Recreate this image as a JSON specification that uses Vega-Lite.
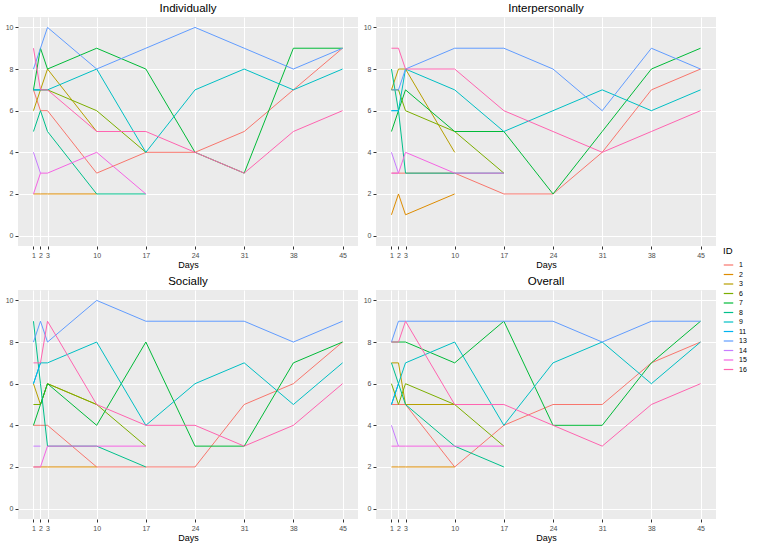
{
  "$schema": "https://vega.github.io/schema/vega-lite/v6.json",
  "padding": {"left": 5, "top": 2, "right": 2, "bottom": 2},
  "background": "white",
  "datasets": {
    "scores": [
      {"panel":"Individually","id":"1","day":1,"value":7},{"panel":"Individually","id":"1","day":2,"value":6},{"panel":"Individually","id":"1","day":3,"value":6},{"panel":"Individually","id":"1","day":10,"value":3},{"panel":"Individually","id":"1","day":17,"value":4},{"panel":"Individually","id":"1","day":24,"value":4},{"panel":"Individually","id":"1","day":31,"value":5},{"panel":"Individually","id":"1","day":38,"value":7},{"panel":"Individually","id":"1","day":45,"value":9},
      {"panel":"Individually","id":"2","day":1,"value":2},{"panel":"Individually","id":"2","day":2,"value":2},{"panel":"Individually","id":"2","day":3,"value":2},{"panel":"Individually","id":"2","day":10,"value":2},
      {"panel":"Individually","id":"3","day":1,"value":6},{"panel":"Individually","id":"3","day":2,"value":7},{"panel":"Individually","id":"3","day":3,"value":8},{"panel":"Individually","id":"3","day":10,"value":5},
      {"panel":"Individually","id":"6","day":1,"value":7},{"panel":"Individually","id":"6","day":2,"value":7},{"panel":"Individually","id":"6","day":3,"value":7},{"panel":"Individually","id":"6","day":10,"value":6},{"panel":"Individually","id":"6","day":17,"value":4},
      {"panel":"Individually","id":"7","day":1,"value":7},{"panel":"Individually","id":"7","day":2,"value":9},{"panel":"Individually","id":"7","day":3,"value":8},{"panel":"Individually","id":"7","day":10,"value":9},{"panel":"Individually","id":"7","day":17,"value":8},{"panel":"Individually","id":"7","day":24,"value":4},{"panel":"Individually","id":"7","day":31,"value":3},{"panel":"Individually","id":"7","day":38,"value":9},{"panel":"Individually","id":"7","day":45,"value":9},
      {"panel":"Individually","id":"8","day":1,"value":5},{"panel":"Individually","id":"8","day":2,"value":6},{"panel":"Individually","id":"8","day":3,"value":5},{"panel":"Individually","id":"8","day":10,"value":2},{"panel":"Individually","id":"8","day":17,"value":2},
      {"panel":"Individually","id":"9","day":1,"value":7},{"panel":"Individually","id":"9","day":2,"value":7},{"panel":"Individually","id":"9","day":3,"value":7},{"panel":"Individually","id":"9","day":10,"value":8},{"panel":"Individually","id":"9","day":17,"value":4},{"panel":"Individually","id":"9","day":24,"value":7},{"panel":"Individually","id":"9","day":31,"value":8},{"panel":"Individually","id":"9","day":38,"value":7},{"panel":"Individually","id":"9","day":45,"value":8},
      {"panel":"Individually","id":"11","day":1,"value":7},{"panel":"Individually","id":"11","day":2,"value":7},
      {"panel":"Individually","id":"13","day":1,"value":8},{"panel":"Individually","id":"13","day":2,"value":9},{"panel":"Individually","id":"13","day":3,"value":10},{"panel":"Individually","id":"13","day":10,"value":8},{"panel":"Individually","id":"13","day":17,"value":9},{"panel":"Individually","id":"13","day":24,"value":10},{"panel":"Individually","id":"13","day":31,"value":9},{"panel":"Individually","id":"13","day":38,"value":8},{"panel":"Individually","id":"13","day":45,"value":9},
      {"panel":"Individually","id":"14","day":1,"value":4},{"panel":"Individually","id":"14","day":2,"value":3},
      {"panel":"Individually","id":"15","day":1,"value":2},{"panel":"Individually","id":"15","day":2,"value":3},{"panel":"Individually","id":"15","day":3,"value":3},{"panel":"Individually","id":"15","day":10,"value":4},{"panel":"Individually","id":"15","day":17,"value":2},
      {"panel":"Individually","id":"16","day":1,"value":9},{"panel":"Individually","id":"16","day":2,"value":7},{"panel":"Individually","id":"16","day":3,"value":7},{"panel":"Individually","id":"16","day":10,"value":5},{"panel":"Individually","id":"16","day":17,"value":5},{"panel":"Individually","id":"16","day":24,"value":4},{"panel":"Individually","id":"16","day":31,"value":3},{"panel":"Individually","id":"16","day":38,"value":5},{"panel":"Individually","id":"16","day":45,"value":6},

      {"panel":"Interpersonally","id":"1","day":1,"value":3},{"panel":"Interpersonally","id":"1","day":2,"value":3},{"panel":"Interpersonally","id":"1","day":3,"value":3},{"panel":"Interpersonally","id":"1","day":10,"value":3},{"panel":"Interpersonally","id":"1","day":17,"value":2},{"panel":"Interpersonally","id":"1","day":24,"value":2},{"panel":"Interpersonally","id":"1","day":31,"value":4},{"panel":"Interpersonally","id":"1","day":38,"value":7},{"panel":"Interpersonally","id":"1","day":45,"value":8},
      {"panel":"Interpersonally","id":"2","day":1,"value":1},{"panel":"Interpersonally","id":"2","day":2,"value":2},{"panel":"Interpersonally","id":"2","day":3,"value":1},{"panel":"Interpersonally","id":"2","day":10,"value":2},
      {"panel":"Interpersonally","id":"3","day":1,"value":7},{"panel":"Interpersonally","id":"3","day":2,"value":8},{"panel":"Interpersonally","id":"3","day":3,"value":8},{"panel":"Interpersonally","id":"3","day":10,"value":4},
      {"panel":"Interpersonally","id":"6","day":1,"value":7},{"panel":"Interpersonally","id":"6","day":2,"value":7},{"panel":"Interpersonally","id":"6","day":3,"value":6},{"panel":"Interpersonally","id":"6","day":10,"value":5},{"panel":"Interpersonally","id":"6","day":17,"value":3},
      {"panel":"Interpersonally","id":"7","day":1,"value":5},{"panel":"Interpersonally","id":"7","day":2,"value":6},{"panel":"Interpersonally","id":"7","day":3,"value":7},{"panel":"Interpersonally","id":"7","day":10,"value":5},{"panel":"Interpersonally","id":"7","day":17,"value":5},{"panel":"Interpersonally","id":"7","day":24,"value":2},{"panel":"Interpersonally","id":"7","day":31,"value":5},{"panel":"Interpersonally","id":"7","day":38,"value":8},{"panel":"Interpersonally","id":"7","day":45,"value":9},
      {"panel":"Interpersonally","id":"8","day":1,"value":8},{"panel":"Interpersonally","id":"8","day":2,"value":6},{"panel":"Interpersonally","id":"8","day":3,"value":3},{"panel":"Interpersonally","id":"8","day":10,"value":3},{"panel":"Interpersonally","id":"8","day":17,"value":3},
      {"panel":"Interpersonally","id":"9","day":1,"value":6},{"panel":"Interpersonally","id":"9","day":2,"value":6},{"panel":"Interpersonally","id":"9","day":3,"value":8},{"panel":"Interpersonally","id":"9","day":10,"value":7},{"panel":"Interpersonally","id":"9","day":17,"value":5},{"panel":"Interpersonally","id":"9","day":24,"value":6},{"panel":"Interpersonally","id":"9","day":31,"value":7},{"panel":"Interpersonally","id":"9","day":38,"value":6},{"panel":"Interpersonally","id":"9","day":45,"value":7},
      {"panel":"Interpersonally","id":"11","day":1,"value":6},{"panel":"Interpersonally","id":"11","day":2,"value":6},
      {"panel":"Interpersonally","id":"13","day":1,"value":7},{"panel":"Interpersonally","id":"13","day":2,"value":7},{"panel":"Interpersonally","id":"13","day":3,"value":8},{"panel":"Interpersonally","id":"13","day":10,"value":9},{"panel":"Interpersonally","id":"13","day":17,"value":9},{"panel":"Interpersonally","id":"13","day":24,"value":8},{"panel":"Interpersonally","id":"13","day":31,"value":6},{"panel":"Interpersonally","id":"13","day":38,"value":9},{"panel":"Interpersonally","id":"13","day":45,"value":8},
      {"panel":"Interpersonally","id":"14","day":1,"value":4},{"panel":"Interpersonally","id":"14","day":2,"value":3},
      {"panel":"Interpersonally","id":"15","day":1,"value":3},{"panel":"Interpersonally","id":"15","day":2,"value":3},{"panel":"Interpersonally","id":"15","day":3,"value":4},{"panel":"Interpersonally","id":"15","day":10,"value":3},{"panel":"Interpersonally","id":"15","day":17,"value":3},
      {"panel":"Interpersonally","id":"16","day":1,"value":9},{"panel":"Interpersonally","id":"16","day":2,"value":9},{"panel":"Interpersonally","id":"16","day":3,"value":8},{"panel":"Interpersonally","id":"16","day":10,"value":8},{"panel":"Interpersonally","id":"16","day":17,"value":6},{"panel":"Interpersonally","id":"16","day":24,"value":5},{"panel":"Interpersonally","id":"16","day":31,"value":4},{"panel":"Interpersonally","id":"16","day":38,"value":5},{"panel":"Interpersonally","id":"16","day":45,"value":6},

      {"panel":"Socially","id":"1","day":1,"value":4},{"panel":"Socially","id":"1","day":2,"value":4},{"panel":"Socially","id":"1","day":3,"value":4},{"panel":"Socially","id":"1","day":10,"value":2},{"panel":"Socially","id":"1","day":17,"value":2},{"panel":"Socially","id":"1","day":24,"value":2},{"panel":"Socially","id":"1","day":31,"value":5},{"panel":"Socially","id":"1","day":38,"value":6},{"panel":"Socially","id":"1","day":45,"value":8},
      {"panel":"Socially","id":"2","day":1,"value":2},{"panel":"Socially","id":"2","day":2,"value":2},{"panel":"Socially","id":"2","day":3,"value":2},{"panel":"Socially","id":"2","day":10,"value":2},
      {"panel":"Socially","id":"3","day":1,"value":6},{"panel":"Socially","id":"3","day":2,"value":5},{"panel":"Socially","id":"3","day":3,"value":6},{"panel":"Socially","id":"3","day":10,"value":5},
      {"panel":"Socially","id":"6","day":1,"value":5},{"panel":"Socially","id":"6","day":2,"value":5},{"panel":"Socially","id":"6","day":3,"value":6},{"panel":"Socially","id":"6","day":10,"value":5},{"panel":"Socially","id":"6","day":17,"value":3},
      {"panel":"Socially","id":"7","day":1,"value":4},{"panel":"Socially","id":"7","day":2,"value":5},{"panel":"Socially","id":"7","day":3,"value":6},{"panel":"Socially","id":"7","day":10,"value":4},{"panel":"Socially","id":"7","day":17,"value":8},{"panel":"Socially","id":"7","day":24,"value":3},{"panel":"Socially","id":"7","day":31,"value":3},{"panel":"Socially","id":"7","day":38,"value":7},{"panel":"Socially","id":"7","day":45,"value":8},
      {"panel":"Socially","id":"8","day":1,"value":9},{"panel":"Socially","id":"8","day":2,"value":6},{"panel":"Socially","id":"8","day":3,"value":3},{"panel":"Socially","id":"8","day":10,"value":3},{"panel":"Socially","id":"8","day":17,"value":2},
      {"panel":"Socially","id":"9","day":1,"value":6},{"panel":"Socially","id":"9","day":2,"value":7},{"panel":"Socially","id":"9","day":3,"value":7},{"panel":"Socially","id":"9","day":10,"value":8},{"panel":"Socially","id":"9","day":17,"value":4},{"panel":"Socially","id":"9","day":24,"value":6},{"panel":"Socially","id":"9","day":31,"value":7},{"panel":"Socially","id":"9","day":38,"value":5},{"panel":"Socially","id":"9","day":45,"value":7},
      {"panel":"Socially","id":"11","day":1,"value":6},{"panel":"Socially","id":"11","day":2,"value":7},
      {"panel":"Socially","id":"13","day":1,"value":8},{"panel":"Socially","id":"13","day":2,"value":9},{"panel":"Socially","id":"13","day":3,"value":8},{"panel":"Socially","id":"13","day":10,"value":10},{"panel":"Socially","id":"13","day":17,"value":9},{"panel":"Socially","id":"13","day":24,"value":9},{"panel":"Socially","id":"13","day":31,"value":9},{"panel":"Socially","id":"13","day":38,"value":8},{"panel":"Socially","id":"13","day":45,"value":9},
      {"panel":"Socially","id":"14","day":1,"value":3},{"panel":"Socially","id":"14","day":2,"value":3},
      {"panel":"Socially","id":"15","day":1,"value":2},{"panel":"Socially","id":"15","day":2,"value":2},{"panel":"Socially","id":"15","day":3,"value":3},{"panel":"Socially","id":"15","day":10,"value":3},{"panel":"Socially","id":"15","day":17,"value":3},
      {"panel":"Socially","id":"16","day":1,"value":7},{"panel":"Socially","id":"16","day":2,"value":7},{"panel":"Socially","id":"16","day":3,"value":9},{"panel":"Socially","id":"16","day":10,"value":5},{"panel":"Socially","id":"16","day":17,"value":4},{"panel":"Socially","id":"16","day":24,"value":4},{"panel":"Socially","id":"16","day":31,"value":3},{"panel":"Socially","id":"16","day":38,"value":4},{"panel":"Socially","id":"16","day":45,"value":6},

      {"panel":"Overall","id":"1","day":1,"value":5},{"panel":"Overall","id":"1","day":2,"value":5},{"panel":"Overall","id":"1","day":3,"value":5},{"panel":"Overall","id":"1","day":10,"value":2},{"panel":"Overall","id":"1","day":17,"value":4},{"panel":"Overall","id":"1","day":24,"value":5},{"panel":"Overall","id":"1","day":31,"value":5},{"panel":"Overall","id":"1","day":38,"value":7},{"panel":"Overall","id":"1","day":45,"value":8},
      {"panel":"Overall","id":"2","day":1,"value":2},{"panel":"Overall","id":"2","day":2,"value":2},{"panel":"Overall","id":"2","day":3,"value":2},{"panel":"Overall","id":"2","day":10,"value":2},
      {"panel":"Overall","id":"3","day":1,"value":7},{"panel":"Overall","id":"3","day":2,"value":7},{"panel":"Overall","id":"3","day":3,"value":5},{"panel":"Overall","id":"3","day":10,"value":5},
      {"panel":"Overall","id":"6","day":1,"value":6},{"panel":"Overall","id":"6","day":2,"value":5},{"panel":"Overall","id":"6","day":3,"value":6},{"panel":"Overall","id":"6","day":10,"value":5},{"panel":"Overall","id":"6","day":17,"value":3},
      {"panel":"Overall","id":"7","day":1,"value":8},{"panel":"Overall","id":"7","day":2,"value":8},{"panel":"Overall","id":"7","day":3,"value":8},{"panel":"Overall","id":"7","day":10,"value":7},{"panel":"Overall","id":"7","day":17,"value":9},{"panel":"Overall","id":"7","day":24,"value":4},{"panel":"Overall","id":"7","day":31,"value":4},{"panel":"Overall","id":"7","day":38,"value":7},{"panel":"Overall","id":"7","day":45,"value":9},
      {"panel":"Overall","id":"8","day":1,"value":7},{"panel":"Overall","id":"8","day":2,"value":6},{"panel":"Overall","id":"8","day":3,"value":5},{"panel":"Overall","id":"8","day":10,"value":3},{"panel":"Overall","id":"8","day":17,"value":2},
      {"panel":"Overall","id":"9","day":1,"value":5},{"panel":"Overall","id":"9","day":2,"value":6},{"panel":"Overall","id":"9","day":3,"value":7},{"panel":"Overall","id":"9","day":10,"value":8},{"panel":"Overall","id":"9","day":17,"value":4},{"panel":"Overall","id":"9","day":24,"value":7},{"panel":"Overall","id":"9","day":31,"value":8},{"panel":"Overall","id":"9","day":38,"value":6},{"panel":"Overall","id":"9","day":45,"value":8},
      {"panel":"Overall","id":"11","day":1,"value":5},{"panel":"Overall","id":"11","day":2,"value":6},
      {"panel":"Overall","id":"13","day":1,"value":8},{"panel":"Overall","id":"13","day":2,"value":9},{"panel":"Overall","id":"13","day":3,"value":9},{"panel":"Overall","id":"13","day":10,"value":9},{"panel":"Overall","id":"13","day":17,"value":9},{"panel":"Overall","id":"13","day":24,"value":9},{"panel":"Overall","id":"13","day":31,"value":8},{"panel":"Overall","id":"13","day":38,"value":9},{"panel":"Overall","id":"13","day":45,"value":9},
      {"panel":"Overall","id":"14","day":1,"value":4},{"panel":"Overall","id":"14","day":2,"value":3},
      {"panel":"Overall","id":"15","day":1,"value":3},{"panel":"Overall","id":"15","day":2,"value":3},{"panel":"Overall","id":"15","day":3,"value":3},{"panel":"Overall","id":"15","day":10,"value":3},{"panel":"Overall","id":"15","day":17,"value":3},
      {"panel":"Overall","id":"16","day":1,"value":8},{"panel":"Overall","id":"16","day":2,"value":8},{"panel":"Overall","id":"16","day":3,"value":9},{"panel":"Overall","id":"16","day":10,"value":5},{"panel":"Overall","id":"16","day":17,"value":5},{"panel":"Overall","id":"16","day":24,"value":4},{"panel":"Overall","id":"16","day":31,"value":3},{"panel":"Overall","id":"16","day":38,"value":5},{"panel":"Overall","id":"16","day":45,"value":6}
    ]
  },
  "data": {"name": "scores"},
  "facet": {
    "field": "panel",
    "type": "nominal",
    "sort": ["Individually", "Interpersonally", "Socially", "Overall"],
    "title": null,
    "header": {"labelFont": "Liberation Sans", "labelFontSize": 11.5, "labelColor": "#000000", "labelPadding": 3}
  },
  "columns": 2,
  "spacing": {"row": 6, "column": 5},
  "resolve": {"axis": {"x": "independent", "y": "independent"}},
  "spec": {
    "width": 340,
    "height": 229,
    "mark": {"type": "line", "strokeWidth": 1, "clip": true},
    "encoding": {
      "x": {
        "field": "day", "type": "quantitative",
        "scale": {"domain": [-1.2, 47.2], "nice": false, "zero": false},
        "axis": {"values": [1, 2, 3, 10, 17, 24, 31, 38, 45], "title": "Days"}
      },
      "y": {
        "field": "value", "type": "quantitative",
        "scale": {"domain": [-0.5, 10.5], "nice": false, "zero": false},
        "axis": {"values": [0, 2, 4, 6, 8, 10], "title": null}
      },
      "color": {
        "field": "id", "type": "nominal",
        "scale": {
          "domain": ["1", "2", "3", "6", "7", "8", "9", "11", "13", "14", "15", "16"],
          "range": ["#F8766D", "#DE8C00", "#B79F00", "#7CAE00", "#00BA38", "#00C08B", "#00BFC4", "#00B4F0", "#619CFF", "#C77CFF", "#F564E3", "#FF64B0"]
        },
        "legend": {
          "title": "ID",
          "orient": "none",
          "legendX": 705,
          "legendY": 229,
          "symbolType": "stroke",
          "symbolStrokeWidth": 1.2,
          "symbolSize": 90,
          "rowPadding": 0.5,
          "labelFontSize": 7,
          "labelColor": "#000000",
          "labelFont": "Liberation Sans",
          "titleFont": "Liberation Sans",
          "titleFontSize": 9.5,
          "titleFontWeight": "normal",
          "titleColor": "#000000",
          "titlePadding": 4,
          "labelOffset": 5
        }
      }
    }
  },
  "config": {
    "view": {"fill": "#EBEBEB", "stroke": null},
    "axis": {
      "domain": false,
      "grid": true,
      "gridColor": "#FFFFFF",
      "gridWidth": 1,
      "tickColor": "#333333",
      "tickSize": 3,
      "labelColor": "#4D4D4D",
      "labelFont": "Liberation Sans",
      "labelFontSize": 7,
      "labelPadding": 2,
      "titleFont": "Liberation Sans",
      "titleFontSize": 9,
      "titleFontWeight": "normal",
      "titleColor": "#000000",
      "titlePadding": 2
    }
  }
}
